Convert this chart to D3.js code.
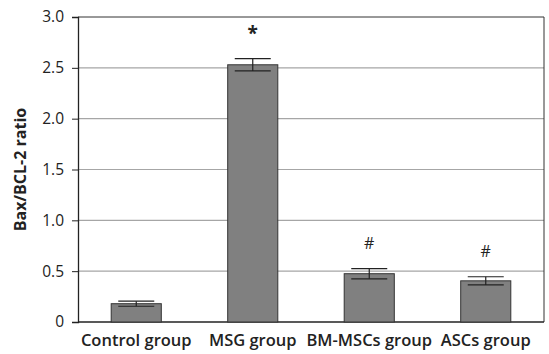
<!DOCTYPE html>
<meta charset="utf-8" />
<script src="https://d3js.org/d3.v7.min.js"></script>
<style>
  body { margin: 0; background: #fff; }
  text { font-family: "Open Sans", sans-serif; fill: #222; }
</style>
<body>
<div id="chart"></div>
<script>
  // data
  var groups = ["Control group", "MSG group", "BM-MSCs group", "ASCs group"];
  var ratios = [0.18, 2.53, 0.475, 0.405];
  var errors = [0.025, 0.06, 0.05, 0.04];
  var marks = ["", "*", "#", "#"];
  var yTicks = [0, 0.5, 1.0, 1.5, 2.0, 2.5, 3.0];
  var yTickLabels = ["0", "0.5", "1.0", "1.5", "2.0", "2.5", "3.0"];

  var margin = { top: 17, right: 5, bottom: 32, left: 78 },
    width = 549 - margin.left - margin.right,
    height = 354 - margin.top - margin.bottom;

  var svg = d3.select("#chart")
    .append("svg")
    .attr("width", 549)
    .attr("height", 354)
    .append("g")
    .attr("transform", "translate(" + margin.left + "," + margin.top + ")");

  var x = d3.scaleBand().domain(groups).range([0, width]).paddingInner(0.57).paddingOuter(0.285);
  var y = d3.scaleLinear().domain([0, 3]).range([height, 0]);

  // gridlines
  svg.append("g")
    .selectAll("line")
    .data(yTicks.slice(1, -1))
    .enter()
    .append("line")
    .attr("x1", 0)
    .attr("x2", width)
    .attr("y1", function (d) { return y(d); })
    .attr("y2", function (d) { return y(d); })
    .attr("stroke", "#a6a6a6")
    .attr("stroke-width", 1.2);

  // top and right border
  svg.append("path")
    .attr("d", "M0," + y(3) + "H" + width + "V" + height)
    .attr("fill", "none")
    .attr("stroke", "#333")
    .attr("stroke-width", 1);

  // y axis
  var yAxis = svg.append("g")
    .call(d3.axisLeft(y).tickValues(yTicks)
      .tickFormat(function (d, i) { return yTickLabels[i]; })
      .tickSize(6).tickPadding(8));
  yAxis.select(".domain").attr("stroke", "#222").attr("stroke-width", 1.3);
  yAxis.selectAll(".tick line").attr("stroke", "#222");
  yAxis.selectAll("text").style("font-size", "15.5px").attr("fill", "#222");

  // x axis line
  svg.append("line")
    .attr("x1", 0).attr("x2", width)
    .attr("y1", height).attr("y2", height)
    .attr("stroke", "#222").attr("stroke-width", 1.3);

  // bars
  svg.selectAll(".bar")
    .data(groups)
    .enter()
    .append("rect")
    .attr("x", function (d) { return x(d); })
    .attr("y", function (d, i) { return y(ratios[i]); })
    .attr("width", x.bandwidth())
    .attr("height", function (d, i) { return height - y(ratios[i]); })
    .attr("fill", "#808080")
    .attr("stroke", "#333")
    .attr("stroke-width", 1);

  // error bars
  var cap = 18;
  var eb = svg.selectAll(".err")
    .data(groups)
    .enter()
    .append("g")
    .attr("stroke", "#222")
    .attr("stroke-width", 1.2);
  eb.append("line")
    .attr("x1", function (d) { return x(d) + x.bandwidth() / 2; })
    .attr("x2", function (d) { return x(d) + x.bandwidth() / 2; })
    .attr("y1", function (d, i) { return y(ratios[i] + errors[i]); })
    .attr("y2", function (d, i) { return y(ratios[i] - errors[i]); });
  eb.append("line")
    .attr("x1", function (d) { return x(d) + x.bandwidth() / 2 - cap; })
    .attr("x2", function (d) { return x(d) + x.bandwidth() / 2 + cap; })
    .attr("y1", function (d, i) { return y(ratios[i] + errors[i]); })
    .attr("y2", function (d, i) { return y(ratios[i] + errors[i]); });
  eb.append("line")
    .attr("x1", function (d) { return x(d) + x.bandwidth() / 2 - cap; })
    .attr("x2", function (d) { return x(d) + x.bandwidth() / 2 + cap; })
    .attr("y1", function (d, i) { return y(ratios[i] - errors[i]); })
    .attr("y2", function (d, i) { return y(ratios[i] - errors[i]); });

  // significance marks
  svg.selectAll(".mark")
    .data(groups)
    .enter()
    .append("text")
    .attr("x", function (d) { return x(d) + x.bandwidth() / 2; })
    .attr("y", function (d, i) { return y(ratios[i] + errors[i]) - (marks[i] === "*" ? 19 : 20); })
    .attr("text-anchor", "middle")
    .style("font-size", function (d, i) { return marks[i] === "*" ? "19px" : "16px"; })
    .style("font-weight", function (d, i) { return marks[i] === "*" ? "700" : "400"; })
    .text(function (d, i) { return marks[i]; });

  // category labels
  svg.selectAll(".cat")
    .data(groups)
    .enter()
    .append("text")
    .attr("x", function (d) { return x(d) + x.bandwidth() / 2; })
    .attr("y", height + 24)
    .attr("text-anchor", "middle")
    .style("font-size", "16.5px")
    .style("font-weight", "600")
    .text(function (d) { return d; });

  // y label
  svg.append("text")
    .attr("transform", "translate(" + (-52) + "," + (height / 2) + ")rotate(-90)")
    .attr("text-anchor", "middle")
    .style("font-size", "16px")
    .style("font-weight", "700")
    .text("Bax/BCL-2 ratio");
</script>
</body>
